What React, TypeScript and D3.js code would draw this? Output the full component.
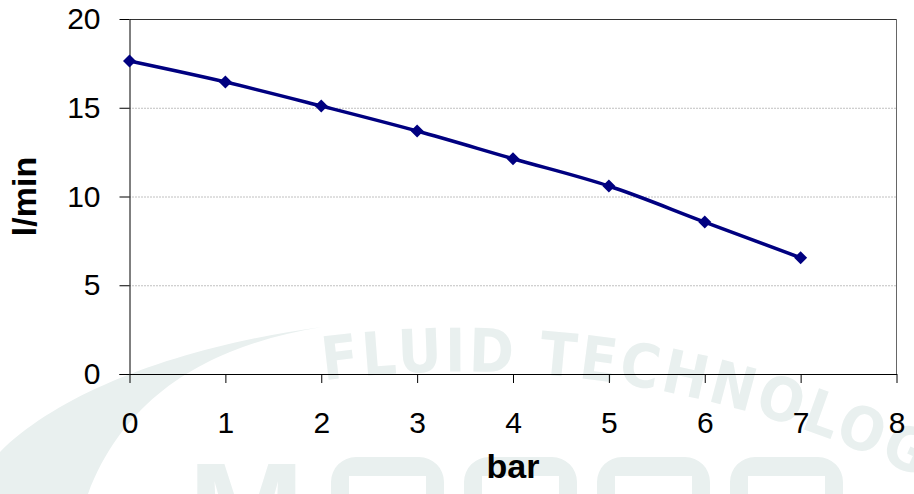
import { useEffect, useRef } from 'react';
import * as d3 from 'd3';

// pump curve: flow vs pressure
const pressure = [0, 1, 2, 3, 4, 5, 6, 7];
const flow = [17.63, 16.45, 15.1, 13.69, 12.13, 10.59, 8.56, 6.55];
const xTicks = [0, 1, 2, 3, 4, 5, 6, 7, 8];
const yTicks = [0, 5, 10, 15, 20];
const yGrid = [5, 10, 15];
const xTitle = 'bar';
const yTitle = 'l/min';
const markText = 'FLUID TECHNOLOGY';

const W = 914;
const H = 494;
const FONT = '"Liberation Sans", Arial, sans-serif';
const WM = '#e9f0ef';

export default function App() {
  const svgRef = useRef<SVGSVGElement>(null);

  useEffect(() => {
    const svg = d3.select(svgRef.current);
    svg.selectAll('*').remove();

    const x = d3.scaleLinear().domain([0, 8]).range([129.5, 896.5]);
    const y = d3.scaleLinear().domain([0, 20]).range([374, 19]);

    // watermark behind everything
    const wm = svg.append('g').attr('fill', WM);
    wm.append('path')
      .attr('d', 'M0,452 C60,392 180,346 322,327 C230,342 130,382 88,494 L0,494 Z');
    svg.append('defs').append('path')
      .attr('id', 'arc')
      .attr('d', 'M300,384 A1040,1040 0 0 1 980,510');
    wm.append('text')
      .attr('font-family', '"Liberation Sans Narrow", "DejaVu Sans Condensed", sans-serif')
      .attr('font-weight', 'bold')
      .attr('font-size', 60)
      .attr('letter-spacing', 3)
      .append('textPath')
      .attr('href', '#arc')
      .attr('startOffset', 24)
      .text(markText);
    // big letters at the bottom
    wm.append('text')
      .attr('x', 188).attr('y', 560)
      .attr('font-family', FONT)
      .attr('font-weight', 'bold')
      .attr('font-size', 140)
      .text('M');
    [331, 464, 597, 730].forEach(lx => {
      wm.append('path')
        .attr('fill-rule', 'evenodd')
        .attr('d', `M${lx + 25},457 h63 a25,25 0 0 1 25,25 v40 h-113 v-40 a25,25 0 0 1 25,-25 Z M${lx + 18},476 h77 v40 h-77 Z`);
    });

    // grid
    svg.append('g')
      .selectAll('line')
      .data(yGrid)
      .join('line')
      .attr('x1', x(0)).attr('x2', x(8))
      .attr('y1', d => y(d) + 0.5).attr('y2', d => y(d) + 0.5)
      .attr('stroke', '#808080')
      .attr('stroke-dasharray', '1 2');

    // frame top/right
    svg.append('line')
      .attr('x1', x(0)).attr('x2', x(8))
      .attr('y1', y(20) + 0.5).attr('y2', y(20) + 0.5)
      .attr('stroke', '#333');
    svg.append('line')
      .attr('x1', x(8)).attr('x2', x(8))
      .attr('y1', y(20)).attr('y2', y(0))
      .attr('stroke', '#666');

    const yAxis = svg.append('g')
      .attr('transform', `translate(${x(0)},0)`)
      .call(d3.axisLeft(y).tickValues(yTicks).tickSize(10).tickSizeOuter(0).tickPadding(19));
    const xAxis = svg.append('g')
      .attr('transform', `translate(0,${y(0)})`)
      .call(d3.axisBottom(x).tickValues(xTicks).tickSize(9).tickSizeOuter(0).tickPadding(29));
    [yAxis, xAxis].forEach(a => {
      a.selectAll('path, line').attr('stroke', '#000');
      a.selectAll('text').attr('font-family', FONT).attr('font-size', 30).attr('fill', '#000');
    });
    // extend x axis line left to the y tick
    svg.append('line')
      .attr('x1', x(0) - 10).attr('x2', x(0))
      .attr('y1', y(0) + 0.5).attr('y2', y(0) + 0.5)
      .attr('stroke', '#000');

    // titles
    svg.append('text')
      .attr('x', (x(0) + x(8)) / 2).attr('y', 478)
      .attr('text-anchor', 'middle')
      .attr('font-family', FONT).attr('font-weight', 'bold').attr('font-size', 34)
      .text(xTitle);
    svg.append('text')
      .attr('transform', `translate(36,${(y(0) + y(20)) / 2}) rotate(-90)`)
      .attr('text-anchor', 'middle')
      .attr('font-family', FONT).attr('font-weight', 'bold').attr('font-size', 34)
      .text(yTitle);

    // series
    const pts = pressure.map((p, i) => [p, flow[i]] as [number, number]);
    const line = d3.line<[number, number]>()
      .x(d => x(d[0]))
      .y(d => y(d[1]))
      .curve(d3.curveCatmullRom.alpha(0.5));
    svg.append('path')
      .datum(pts)
      .attr('d', line)
      .attr('fill', 'none')
      .attr('stroke', '#000080')
      .attr('stroke-width', 3.5);
    svg.append('g')
      .selectAll('path')
      .data(pts)
      .join('path')
      .attr('d', d => {
        const cx = x(d[0]), cy = y(d[1]), r = 6.5;
        return `M${cx},${cy - r}L${cx + r},${cy}L${cx},${cy + r}L${cx - r},${cy}Z`;
      })
      .attr('fill', '#000080');
  }, []);

  return (
    <svg
      ref={svgRef}
      width={W}
      height={H}
      viewBox={`0 0 ${W} ${H}`}
      style={{ position: 'absolute', left: 0, top: 0, background: '#fff' }}
    />
  );
}
